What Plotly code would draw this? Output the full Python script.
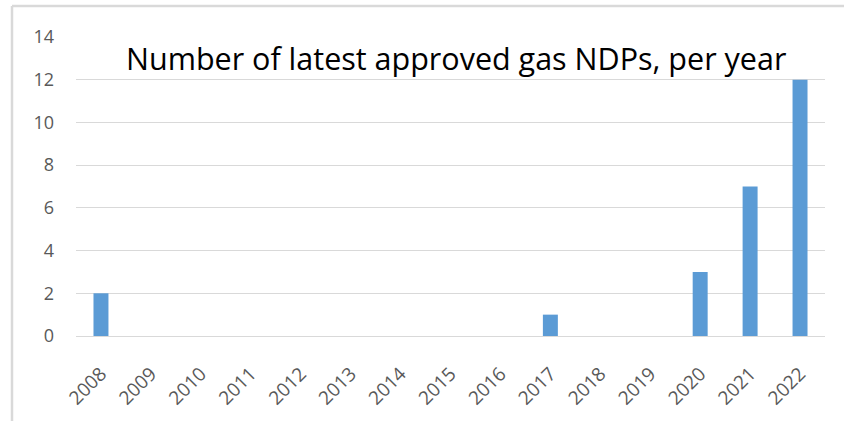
import plotly.graph_objects as go

years = ["2008", "2009", "2010", "2011", "2012", "2013", "2014", "2015",
         "2016", "2017", "2018", "2019", "2020", "2021", "2022"]
counts = [2, 0, 0, 0, 0, 0, 0, 0, 0, 1, 0, 0, 3, 7, 12]
title_text = "Number of latest approved gas NDPs, per year"
y_ticks = [0, 2, 4, 6, 8, 10, 12, 14]

fig = go.Figure()
fig.add_trace(go.Bar(x=years, y=counts, marker=dict(color="#5b9bd5", line=dict(width=0)),
                     width=0.3))

L, R, T, B = 76, 19, 37, 85
W, H = 844, 421
pw = W - L - R
ph = H - T - B

fig.update_layout(
    width=W, height=H,
    margin=dict(l=L, r=R, t=T, b=B, autoexpand=False),
    plot_bgcolor="white", paper_bgcolor="white",
    showlegend=False,
    font=dict(family="Open Sans, sans-serif", color="#595959", size=18),
    xaxis=dict(type="category", tickangle=-45, showgrid=False, showline=False,
               ticks="", automargin=False, ticklabelstandoff=22,
               tickfont=dict(size=19, color="#595959")),
    yaxis=dict(range=[0, 14], tickvals=y_ticks, showgrid=True, gridcolor="#d9d9d9",
               gridwidth=1, zeroline=True, zerolinecolor="#d9d9d9", zerolinewidth=1,
               showline=False, ticks="", ticklabelstandoff=21, automargin=False,
               tickfont=dict(size=18, color="#595959")),
    bargap=0.7,
)

fig.add_annotation(
    text=title_text, xref="paper", yref="paper",
    x=(456 - L) / pw, y=(H - B - 58) / ph, xanchor="center", yanchor="middle",
    showarrow=False, font=dict(size=30.5, color="#000000", family="Open Sans, sans-serif"),
)

bx0 = (12 - L) / pw
by1 = (H - B - 6) / ph
border = dict(color="#d9d9d9", width=2.5)
fig.add_shape(type="line", xref="paper", yref="paper",
              x0=bx0, x1=(W + 20 - L) / pw, y0=by1, y1=by1, line=border, layer="below")
fig.add_shape(type="line", xref="paper", yref="paper",
              x0=bx0, x1=bx0, y0=-(B + 20) / ph, y1=by1, line=border, layer="below")

fig.write_html("out.html", config={"displayModeBar": False},
               post_script="document.body.style.margin='0';"
                           "document.body.style.overflow='hidden';"
                           "document.documentElement.style.overflow='hidden';")
